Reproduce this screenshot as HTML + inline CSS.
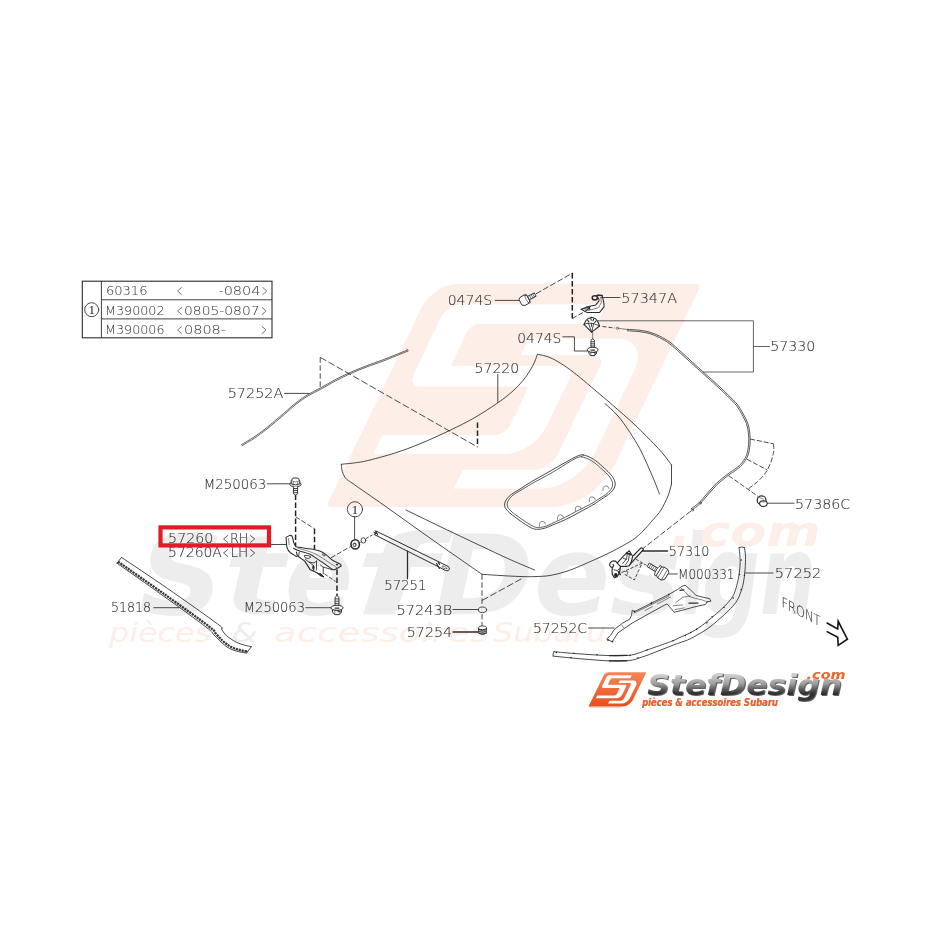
<!DOCTYPE html>
<html lang="fr"><head><meta charset="utf-8"><title>Capot - StefDesign</title>
<style>
html,body{margin:0;padding:0;background:#fff;}
body{width:931px;height:931px;overflow:hidden;}
svg{display:block;will-change:transform}
.l{fill:none;stroke:#2b2b2b;stroke-width:.85;stroke-linecap:round;stroke-linejoin:round}
.lt{fill:none;stroke:#333;stroke-width:.6;stroke-linecap:round;stroke-linejoin:round}
.lw{fill:#fff;stroke:#2b2b2b;stroke-width:.85;stroke-linejoin:round}
.lb{fill:none;stroke:#111;stroke-width:1.6;stroke-linecap:butt;stroke-linejoin:miter}
.d{fill:none;stroke:#2b2b2b;stroke-width:.85;stroke-dasharray:5.5 2.5}
.dk{fill:none;stroke:#222;stroke-width:1.5;stroke-dasharray:5.5 2.5}
.t{font-family:'DejaVu Sans Light','DejaVu Sans','Liberation Sans',sans-serif;font-weight:200;fill:#2c2c2c;stroke:#2c2c2c;stroke-width:.1}
#table .t{fill:#3a3a3a;stroke:#3a3a3a;stroke-width:.06}
.ts{font-family:'Liberation Serif','DejaVu Serif',serif;fill:#222}
.wmt{font-family:'Liberation Sans','DejaVu Sans',sans-serif;font-weight:bold;font-style:italic}
</style></head>
<body>
<svg width="931" height="931" viewBox="0 0 931 931">
<g id="watermark">
<g transform="translate(136.3,0) skewX(-25.64)">
<path d="M457,284 L696.5,284 A5,5 0 0 1 701.5,289 L701.5,465 A42,42 0 0 1 659.5,507 L438,507 A5,5 0 0 1 433,502 L433,308 A24,24 0 0 1 457,284Z" fill="#fdeee8"/>
<path d="M471,304.5 L616,304.5 L616,323.8 L498,323.8 A8,8 0 0 0 490,331.8 L490,363 A3,3 0 0 0 493,366 L603,366 A12,12 0 0 1 615,378 L615,426 A28,28 0 0 1 587,454 L455,454 L455,435 L568,435 A10,10 0 0 0 578,425 L578,389.5 A3,3 0 0 0 575,386.5 L469,386.5 A12,12 0 0 1 457,374.5 L457,318.5 A14,14 0 0 1 471,304.5Z M555,338.5 L644,338.5 A32,32 0 0 1 676,370.5 L676,452.5 A36,36 0 0 1 640,488.5 L552,488.5 L552,470 L623.5,470 A16,16 0 0 0 639.5,454 L639.5,367 A12,12 0 0 0 627.5,355 L555,355Z" fill="#fff"/>
</g>
<text y="613.5" font-size="110" fill="#ededed" style="font-family:'DejaVu Sans','Liberation Sans',sans-serif;font-weight:bold;font-style:oblique"><tspan x="139" textLength="85" lengthAdjust="spacingAndGlyphs">S</tspan><tspan x="224" textLength="61" lengthAdjust="spacingAndGlyphs">t</tspan><tspan x="285" textLength="68" lengthAdjust="spacingAndGlyphs">e</tspan><tspan x="353" textLength="81" lengthAdjust="spacingAndGlyphs">f</tspan><tspan x="434" textLength="100" lengthAdjust="spacingAndGlyphs">D</tspan><tspan x="534" textLength="76" lengthAdjust="spacingAndGlyphs">e</tspan><tspan x="610" textLength="72" lengthAdjust="spacingAndGlyphs">s</tspan><tspan x="682" textLength="22" lengthAdjust="spacingAndGlyphs">i</tspan><tspan x="702" textLength="58" lengthAdjust="spacingAndGlyphs">g</tspan><tspan x="760" textLength="56" lengthAdjust="spacingAndGlyphs">n</tspan></text>
<text y="546" font-size="42" fill="#fdeee8" style="font-family:'DejaVu Sans','Liberation Sans',sans-serif;font-weight:bold;font-style:oblique"><tspan x="671" font-size="52">.</tspan><tspan x="699.5" textLength="121" lengthAdjust="spacingAndGlyphs">com</tspan></text>
<text x="109" y="642" font-size="26" textLength="102" lengthAdjust="spacingAndGlyphs" fill="#fdeee8" style="font-family:'DejaVu Sans','Liberation Sans',sans-serif;font-weight:normal;font-style:oblique">pièces</text>
<text x="231.5" y="642" font-size="26" textLength="26" lengthAdjust="spacingAndGlyphs" fill="#ededed" style="font-family:'DejaVu Sans','Liberation Sans',sans-serif;font-weight:normal;font-style:oblique">&amp;</text>
<text x="274" y="642" font-size="26" textLength="215" lengthAdjust="spacingAndGlyphs" fill="#fdeee8" style="font-family:'DejaVu Sans','Liberation Sans',sans-serif;font-weight:normal;font-style:oblique">accessoires</text>
<text x="493" y="642" font-size="26" textLength="113" lengthAdjust="spacingAndGlyphs" fill="#fdeee8" style="font-family:'DejaVu Sans','Liberation Sans',sans-serif;font-weight:normal;font-style:oblique">Subaru</text>
</g>
<g id="hood">
<path class="l" d="M341.3,464.3 C344.0,464.0 352.7,463.2 357.5,462.5 C362.3,461.8 363.8,461.6 370.0,460.0 C376.2,458.4 386.7,455.7 395.0,453.0 C403.3,450.3 410.8,447.6 420.0,443.8 C429.2,440.0 441.0,434.6 450.0,430.3 C459.0,426.0 465.9,422.6 474.0,418.0 C482.1,413.4 492.1,406.8 498.4,402.4 C504.7,398.0 507.9,395.4 512.0,391.8 C516.1,388.2 520.0,384.1 523.0,380.5 C526.0,376.9 528.1,373.6 530.0,370.5 C531.9,367.4 533.4,364.7 534.6,362.0 C535.8,359.3 536.9,355.7 537.4,354.4"/>
<path class="l" d="M537.5,354.3 C538.9,354.6 543.1,355.2 546.0,356.2 C548.9,357.1 551.5,358.1 555.0,360.0 C558.5,361.9 562.8,364.6 567.0,367.5 C571.2,370.4 575.2,373.6 580.0,377.5 C584.8,381.4 590.6,386.4 596.0,391.0 C601.4,395.6 606.0,399.3 612.5,405.0 C619.0,410.7 627.9,418.3 635.0,425.0 C642.1,431.7 650.2,440.0 655.0,445.0 C659.8,450.0 661.2,451.7 664.0,455.0 C666.8,458.3 670.2,463.3 671.5,465.0"/>
<path class="l" d="M671.5,465.0 L671.5,484.0"/>
<path class="l" d="M671.5,484.0 C670.9,486.0 669.8,491.7 668.0,496.0 C666.2,500.3 663.5,506.0 661.0,510.0 C658.5,514.0 655.8,516.5 652.8,520.0 C649.8,523.5 646.4,527.7 643.0,531.0 C639.6,534.3 638.0,536.4 632.5,540.0 C627.0,543.6 618.3,548.3 610.0,552.5 C601.7,556.7 589.8,561.8 582.5,565.0 C575.2,568.2 571.4,569.8 566.0,571.5 C560.6,573.2 555.2,574.6 550.0,575.5 C544.8,576.4 540.0,576.4 535.0,576.6 C530.0,576.8 525.8,576.7 520.0,576.5 C514.2,576.3 506.3,575.9 500.0,575.5 C493.7,575.1 485.0,574.5 482.0,574.3"/>
<path class="l" d="M341.3,464.3 C341.4,465.1 341.5,467.5 341.8,469.0 C342.1,470.5 342.3,471.9 343.0,473.5 C343.7,475.1 344.5,476.9 346.0,478.5 C347.5,480.1 345.5,478.4 352.0,483.0 C358.5,487.6 373.7,498.0 385.0,506.0 C396.3,514.0 410.0,523.9 420.0,531.0 C430.0,538.1 436.7,542.8 445.0,548.6 C453.3,554.4 463.8,561.7 470.0,566.0 C476.2,570.3 480.0,572.9 482.0,574.3"/>
<path class="l" d="M406.0,510.0 C411.7,512.8 427.7,520.6 440.0,526.5 C452.3,532.4 468.3,540.0 480.0,545.5 C491.7,551.0 500.9,555.4 510.0,559.5 C519.1,563.6 530.4,568.2 534.5,570.0"/>
<path class="l" d="M605.0,403.5 C607.2,405.6 613.8,411.2 618.0,416.0 C622.2,420.8 626.3,427.0 630.0,432.5 C633.7,438.0 637.1,443.6 640.0,449.0 C642.9,454.4 645.2,459.8 647.5,465.0 C649.8,470.2 652.0,475.2 654.0,480.0 C656.0,484.8 658.6,491.7 659.5,494.0"/>
</g>
<g id="scoop">
<path class="l" d="M583.1,454.9 C586.0,455.3 590.1,457.2 593.4,459.2 C596.7,461.2 599.9,464.1 603.0,467.0 C606.1,469.9 610.3,473.4 612.3,476.4 C614.3,479.4 615.5,482.3 615.2,485.0 C614.9,487.7 613.0,490.3 610.6,492.7 C608.2,495.1 604.1,497.4 601.0,499.5 C597.9,501.6 595.5,503.4 591.7,505.6 C587.9,507.9 582.3,510.7 578.0,513.0 C573.7,515.3 569.7,517.6 565.9,519.4 C562.1,521.2 558.4,522.6 555.0,524.0 C551.6,525.4 548.1,527.1 545.3,528.0 C542.5,528.9 540.3,529.3 538.0,529.3 C535.7,529.3 534.8,529.5 531.6,528.0 C528.4,526.5 523.0,522.9 519.0,520.0 C515.0,517.1 509.9,513.5 507.5,510.8 C505.1,508.1 504.3,506.3 504.6,503.9 C504.9,501.5 506.6,498.7 509.2,496.2 C511.8,493.7 516.3,491.4 520.0,489.0 C523.7,486.6 527.4,484.1 531.6,481.6 C535.8,479.1 540.7,476.4 545.0,474.0 C549.3,471.6 553.5,469.2 557.3,467.0 C561.1,464.8 564.9,462.7 568.0,461.0 C571.1,459.3 573.7,457.6 576.2,456.6 C578.7,455.6 580.2,454.5 583.1,454.9Z"/>
<path class="l" d="M581.8,456.8 C584.5,457.2 588.4,458.9 591.6,460.8 C594.8,462.7 597.8,465.5 600.8,468.2 C603.8,470.9 607.9,474.2 609.8,477.1 C611.8,480.0 612.9,482.7 612.6,485.3 C612.3,487.9 610.4,490.4 608.0,492.7 C605.6,495.0 601.5,497.2 598.4,499.2 C595.3,501.2 593.0,502.8 589.3,504.8 C585.6,506.8 580.3,509.3 576.3,511.3 C572.3,513.4 568.9,515.5 565.4,517.2 C561.9,519.0 558.7,520.4 555.5,521.8 C552.3,523.3 549.1,525.1 546.4,526.0 C543.7,526.9 541.6,527.4 539.4,527.4 C537.2,527.5 536.3,527.8 533.3,526.3 C530.2,524.9 525.1,521.5 521.2,518.8 C517.3,516.1 512.3,512.7 510.0,510.1 C507.6,507.6 506.9,505.8 507.2,503.5 C507.5,501.2 509.2,498.5 511.8,496.1 C514.4,493.7 518.9,491.5 522.6,489.2 C526.3,487.0 530.0,484.7 534.0,482.4 C538.0,480.2 542.7,477.9 546.6,475.7 C550.6,473.5 554.2,471.3 557.7,469.2 C561.1,467.1 564.5,464.9 567.4,463.1 C570.4,461.4 572.8,459.7 575.2,458.6 C577.6,457.6 579.1,456.4 581.8,456.8Z" style="stroke-width:.75"/>
<path class="lt" d="M539.5,526.0 q-0.5,-4.2 2.6,-4.6 q3,-0.2 3.4,2.6"/>
<path class="lt" d="M557.5,519.3 q-0.5,-4.2 2.6,-4.6 q3,-0.2 3.4,2.6"/>
<path class="lt" d="M575.3,510.8 q-0.5,-4.2 2.6,-4.6 q3,-0.2 3.4,2.6"/>
<path class="lt" d="M589.3,501.5 q-0.5,-4.2 2.6,-4.6 q3,-0.2 3.4,2.6"/>
<path class="lt" d="M603.0,490.5 q-0.5,-4.2 2.6,-4.6 q3,-0.2 3.4,2.6"/>
</g>
<path class="lt" d="M241.5,444.6 C243.6,443.3 249.9,439.8 254.0,437.0 C258.1,434.2 261.4,431.9 266.3,428.0 C271.2,424.1 278.4,417.8 283.4,413.6 C288.3,409.4 292.0,405.9 296.0,402.8 C300.0,399.7 303.5,397.2 307.5,394.8 C311.5,392.4 315.4,390.7 320.0,388.2 C324.6,385.7 330.0,382.4 335.0,379.8 C340.0,377.2 344.8,374.8 350.0,372.5 C355.2,370.2 360.6,368.1 366.0,366.0 C371.4,363.9 377.7,361.8 382.5,360.0 C387.3,358.2 390.8,356.7 395.0,355.0 C399.2,353.3 405.4,350.8 407.5,350.0" style="stroke-width:.75"/>
<path class="lt" d="M242.1,445.6 C244.2,444.4 250.5,440.8 254.7,438.0 C258.8,435.2 262.1,432.9 267.0,428.9 C272.0,425.0 279.2,418.7 284.2,414.5 C289.1,410.3 292.7,406.9 296.7,403.7 C300.7,400.6 304.2,398.2 308.1,395.8 C312.1,393.4 316.0,391.7 320.6,389.3 C325.1,386.8 330.6,383.5 335.6,380.9 C340.5,378.3 345.3,375.9 350.5,373.6 C355.6,371.3 361.0,369.2 366.4,367.1 C371.8,365.0 378.1,363.0 382.9,361.1 C387.8,359.3 391.3,357.8 395.4,356.1 C399.6,354.4 405.9,351.9 407.9,351.1" style="stroke-width:.75"/>
<path class="lt" d="M406.8,349.2 l1.5,1.3"/>
<path class="lt" d="M627.5,329.3 C629.6,329.5 636.3,329.8 640.0,330.3 C643.8,330.8 646.7,331.3 650.1,332.3 C653.4,333.3 656.7,334.6 660.1,336.3 C663.4,338.0 666.6,339.8 670.1,342.3 C673.6,344.9 677.4,348.5 681.1,351.9 C684.9,355.2 688.6,358.7 692.6,362.4 C696.6,366.0 701.0,369.9 705.1,373.7 C709.3,377.4 713.8,381.3 717.6,384.9 C721.5,388.4 724.8,391.5 728.1,394.9 C731.5,398.2 735.2,401.7 737.7,404.9 C740.2,408.1 741.5,410.9 743.2,413.9 C744.8,416.9 746.6,419.8 747.7,422.9 C748.8,426.1 749.4,429.3 749.8,433.0 C750.2,436.6 750.4,440.9 750.0,444.8 C749.6,448.7 748.9,453.1 747.5,456.5 C746.1,459.9 743.7,462.9 741.7,465.2 C739.6,467.6 737.3,469.0 735.1,470.7 C733.0,472.3 731.8,472.6 728.8,475.0 C725.8,477.3 720.8,481.2 717.2,484.5 C713.7,487.9 710.4,492.0 707.5,495.2 C704.6,498.5 702.4,501.5 699.8,503.9 C697.3,506.4 693.4,508.8 692.1,509.8" style="stroke-width:.75;stroke:#222"/>
<path class="lt" d="M627.4,330.7 C629.5,330.9 636.1,331.2 639.8,331.7 C643.5,332.2 646.4,332.7 649.7,333.6 C652.9,334.6 656.2,335.9 659.5,337.6 C662.7,339.2 665.8,340.9 669.3,343.5 C672.7,346.0 676.5,349.6 680.2,352.9 C683.9,356.2 687.7,359.8 691.7,363.4 C695.7,367.0 700.0,370.9 704.2,374.7 C708.4,378.4 712.9,382.4 716.7,385.9 C720.5,389.4 723.8,392.5 727.2,395.8 C730.5,399.2 734.1,402.6 736.6,405.7 C739.0,408.9 740.3,411.6 742.0,414.6 C743.6,417.5 745.3,420.3 746.4,423.4 C747.4,426.5 748.0,429.6 748.4,433.1 C748.8,436.7 749.0,440.9 748.6,444.7 C748.2,448.5 747.5,452.7 746.2,455.9 C744.9,459.2 742.6,462.0 740.6,464.3 C738.6,466.6 736.4,468.0 734.3,469.5 C732.2,471.1 731.0,471.5 728.0,473.9 C725.0,476.2 719.8,480.1 716.3,483.5 C712.7,486.9 709.4,491.1 706.5,494.3 C703.6,497.5 701.4,500.5 698.9,502.9 C696.3,505.3 692.5,507.7 691.3,508.6" style="stroke-width:.75;stroke:#222"/>
<path class="d" d="M602.5,326.5 L615,328.1" style="stroke-dasharray:4 2"/>
<path class="lt" d="M619,328.4 L627.5,329.5"/>
<circle class="lt" cx="617.4" cy="328.2" r="1.1"/>
<circle class="lt" cx="692.5" cy="510" r="1.1"/>
<circle class="lt" cx="700.5" cy="503" r="0.9"/>
<path class="d" d="M691,511 L643,548.5" style="stroke-dasharray:6 2.2"/>
<path class="l" d="M744.4,547.5 C744.6,548.9 745.4,552.3 745.5,556.1 C745.6,559.9 745.4,565.6 745.0,570.1 C744.6,574.6 744.2,579.1 743.4,583.0 C742.6,586.9 741.5,590.5 740.2,593.7 C739.0,596.9 737.9,599.4 735.9,602.3 C733.9,605.2 731.3,607.8 728.3,610.9 C725.2,614.0 721.2,617.5 717.6,620.6 C714.0,623.7 710.5,626.7 706.9,629.2 C703.3,631.7 699.3,633.8 696.1,635.6 C692.9,637.4 691.2,638.5 687.5,640.0 C683.8,641.5 678.9,642.9 673.9,644.8 C668.9,646.7 663.2,649.1 657.8,651.2 C652.4,653.3 646.5,655.6 641.7,657.2 C636.9,658.8 634.2,660.0 628.8,660.6 C623.4,661.2 618.0,661.2 609.4,660.9 C600.8,660.5 586.6,659.3 577.2,658.5 C567.8,657.7 557.1,656.5 553.1,656.1"/>
<path class="l" d="M739.1,547.5 C739.3,549.8 740.2,557.0 740.2,561.5 C740.2,566.0 739.7,570.5 739.1,574.4 C738.5,578.3 737.8,581.7 736.9,585.1 C736.0,588.5 735.1,591.9 733.7,594.8 C732.3,597.7 730.4,599.8 728.3,602.3 C726.1,604.8 723.5,607.3 720.8,609.8 C718.1,612.3 715.4,614.6 712.2,617.3 C709.0,620.0 705.1,623.3 701.5,625.9 C697.9,628.5 694.3,630.7 690.7,632.6 C687.1,634.5 683.3,635.9 680.0,637.4 C676.7,638.9 676.0,639.6 670.7,641.6 C665.4,643.6 653.6,647.7 648.1,649.6 C642.6,651.5 641.2,652.2 638.0,653.2 C634.8,654.2 633.6,654.9 628.8,655.3 C624.0,655.7 618.0,655.9 609.4,655.6 C600.8,655.3 586.5,654.4 577.2,653.7 C568.0,653.1 557.8,652.0 553.9,651.7"/>
<path class="l" d="M739.1,547.5 Q741.6,546.4 744.4,547.5"/>
<path class="l" d="M553.9,651.7 Q552.6,653.8 553.1,656.1"/>
<path class="l" d="M609.4,655.6 L627,655.4 M609.4,660.9 L627,660.7" style="stroke-width:1.3"/>
<circle cx="741.2" cy="560.0" r="0.75" fill="#222"/>
<circle cx="739.6" cy="574.6" r="0.75" fill="#222"/>
<circle cx="744.4" cy="575.4" r="0.75" fill="#222"/>
<circle cx="741.2" cy="589.4" r="0.75" fill="#222"/>
<circle cx="733.2" cy="598.0" r="0.75" fill="#222"/>
<circle cx="724.0" cy="607.6" r="0.75" fill="#222"/>
<circle cx="712.2" cy="616.8" r="0.75" fill="#222"/>
<circle cx="706.9" cy="622.7" r="0.75" fill="#222"/>
<circle cx="696.6" cy="629.2" r="0.75" fill="#222"/>
<circle cx="690.7" cy="632.4" r="0.75" fill="#222"/>
<circle cx="685.4" cy="635.6" r="0.75" fill="#222"/>
<circle cx="673.0" cy="640.8" r="0.75" fill="#222"/>
<circle cx="647.0" cy="650.0" r="0.75" fill="#222"/>
<circle cx="630.0" cy="655.4" r="0.75" fill="#222"/>
<circle cx="597.0" cy="654.8" r="0.75" fill="#222"/>
<circle cx="574.0" cy="653.2" r="0.75" fill="#222"/>
<circle cx="556.4" cy="652.6" r="0.75" fill="#222"/>
<circle cx="571.0" cy="657.6" r="0.75" fill="#222"/>
<circle cx="638.0" cy="657.8" r="0.75" fill="#222"/>
<path class="l" d="M121.5,557.4 C129.1,562.5 151.3,577.2 167.3,588.3 C183.3,599.4 208.6,617.2 217.6,624.0 C226.6,630.8 220.2,627.2 221.5,629.0 C222.8,630.8 223.7,633.0 225.3,634.7 C226.9,636.4 229.1,637.7 231.0,639.0 C232.9,640.3 234.8,641.5 237.0,642.5 C239.2,643.5 241.6,644.3 244.0,645.0 C246.4,645.7 250.2,646.4 251.4,646.7"/>
<path class="l" d="M117.0,563.2 C124.8,568.7 148.7,585.4 163.5,596.0 C178.3,606.6 197.6,620.5 206.0,627.0 C214.4,633.5 211.4,632.4 214.0,635.0 C216.6,637.6 219.3,640.5 221.5,642.5 C223.7,644.5 225.1,645.8 227.0,647.0 C228.9,648.2 230.8,649.2 233.0,650.0 C235.2,650.8 237.7,651.5 240.0,652.0 C242.3,652.5 245.5,652.8 246.6,653.0"/>
<path class="l" d="M121.5,557.4 L117,563.2"/>
<path class="l" d="M251.4,646.7 L246.6,653"/>
<path class="l" d="M118.1,561.8 C125.8,567.2 149.3,583.4 164.4,594.2 C179.5,604.9 200.2,619.7 208.8,626.3 C217.3,632.8 213.5,631.2 215.8,633.6 C218.1,636.0 220.4,638.7 222.4,640.6 C224.4,642.5 226.0,643.8 228.0,645.1 C229.9,646.3 231.8,647.3 234.0,648.2 C236.1,649.1 238.7,649.8 241.0,650.3 C243.3,650.9 246.6,651.3 247.8,651.5" style="stroke-width:2.3;stroke-dasharray:2.2 0.8;stroke:#353535;stroke-linecap:butt"/>
<g id="dashes">
<path class="d" d="M320.2,357.3 L320.2,389"/>
<path class="d" d="M320.2,357.3 L477.5,447" style="stroke-dasharray:7 2.5"/>
<path class="dk" d="M477.5,422.5 L477.5,447"/>
<path class="d" d="M536,293.8 L572.4,273.1" style="stroke-dasharray:6 2.2"/>
<path class="dk" d="M572.3,273.1 L572.3,318.4"/>
<path class="d" d="M572.3,318.4 L587.6,310" style="stroke-dasharray:5 2"/>
<path class="d" d="M482,574.3 L482,605"/>
<path class="d" d="M482,614 L482,626"/>
<path class="d" d="M482,600.5 L523.8,577.5" style="stroke-dasharray:7 2.5"/>
<path class="d" d="M750,439 L773.5,443.8" style="stroke-dasharray:5 2"/>
<path class="d" d="M773.5,443.8 C773.5,444.8 773.9,448.2 773.8,450.0 C773.7,451.8 773.6,452.5 773.1,454.5 C772.6,456.5 772.0,459.4 771.0,462.0 C770.0,464.6 768.6,467.7 767.3,470.0 C766.0,472.3 764.6,474.1 763.0,476.0 C761.4,477.9 760.2,479.3 757.7,481.5 C755.2,483.7 749.6,488.0 748.0,489.3" style="stroke-dasharray:5 2"/>
<path class="d" d="M747,459.3 L767.3,470" style="stroke-dasharray:5 2"/>
<path class="d" d="M728.7,475.7 L748,489.3 L758,496.5" style="stroke-dasharray:5 2"/>
<path class="dk" d="M295.6,494.5 L295.6,546"/>
<path class="d" d="M295.6,516.7 L314.5,528.8" style="stroke-dasharray:5 2"/>
<path class="dk" d="M314.5,528.8 L314.5,549"/>
<path class="dk" d="M337,569.5 L337,596"/>
<path class="d" d="M331,557.8 L350.5,546.6" style="stroke-dasharray:5 2"/>
<path class="d" d="M366,538.5 L374.5,533.8" style="stroke-dasharray:3 1.5"/>
<path class="d" d="M636.1,559.3 L648.1,566.2" style="stroke-dasharray:3 1.5"/>
</g>
<path class="l" d="M597.5,320.8 L753.4,320.8 L753.4,372 L703.5,372" style="stroke:#484848"/>
<path class="l" d="M753.4,346.5 L769.5,346.5" style="stroke:#484848"/>
<g id="leaders">
<path class="l" d="M495.1,300.4 L520.2,300.4"/>
<path class="l" d="M601.0,297.5 L620.0,297.5"/>
<path class="l" d="M562.8,336.8 L574.4,336.8 L574.4,351 L587.5,351"/>
<path class="l" d="M497.8,374.5 L497.8,402.3"/>
<path class="l" d="M284.5,393.4 L309.2,393.4"/>
<path class="l" d="M267.2,483.8 L290.5,483.8"/>
<path class="l" d="M271.5,544.5 L286.0,544.5"/>
<path class="l" d="M305.8,607.7 L331.4,607.7"/>
<path class="l" d="M153.8,607.7 L179.0,607.7"/>
<path class="l" d="M407.5,551.0 L407.5,578.8" style="stroke-width:1.25"/>
<path class="l" d="M453.0,609.5 L478.0,609.5"/>
<path class="l" d="M453.0,632.0 L478.5,632.0" style="stroke-width:1.3"/>
<path class="l" d="M588.5,628.0 L614.0,628.0"/>
<path class="l" d="M642.5,551.0 L667.6,551.0" style="stroke-width:1.4"/>
<path class="l" d="M667.6,574.0 L677.4,574.0"/>
<path class="l" d="M745.3,573.0 L773.0,573.0"/>
<path class="l" d="M767.3,503.2 L794.2,503.2"/>
<path class="l" d="M354.6,516.6 L354.6,539.5"/>
</g>
<circle class="l" cx="354.9" cy="509.3" r="7.6" fill="none"/>
<text class="ts" x="354.9" y="513.9" font-size="13.5" text-anchor="middle">1</text>
<g id="bolts">
<ellipse class="lw" cx="295.5" cy="484.3" rx="5.7" ry="2.5" style="stroke-width:1"/>
<path class="lw" style="stroke-width:1" d="M291.3,480.4 L293.2,478.0 L297.8,478.0 L299.7,480.4 L299.9,483.8 Q295.5,486.0 291.1,483.8 Z"/>
<path class="lt" d="M291.3,480.4 Q295.5,483.6 299.7,480.4 M293.3,481.9 l0,3.4 M297.7,481.9 l0,3.4"/>
<path class="lw" d="M293.4,486.4 l0,7.4 l2.1,1.2 l2.1,-1.2 l0,-7.4"/>
<path class="l" d="M293.4,488.5 L297.6,488.5"/>
<path class="l" d="M293.4,490.5 L297.6,490.5"/>
<path class="l" d="M293.4,492.6 L297.6,492.6"/>
<path class="lw" d="M335.1,608.2 l0,-11.0 l1.9,-1.6 l1.9,1.6 l0,11.0"/>
<path class="l" d="M335.1,598.9 L338.9,598.9"/>
<path class="l" d="M335.1,601.2 L338.9,601.2"/>
<path class="l" d="M335.1,603.6 L338.9,603.6"/>
<path class="l" d="M335.1,605.9 L338.9,605.9"/>
<path class="lw" style="stroke-width:1" d="M332.5,609.2 L332.6,612.2 L334.8,614.6 L339.2,614.6 L341.4,612.2 Z"/>
<path class="lw" style="stroke-width:1" d="M341.4,612.2 L341.5,609.2"/>
<path class="lt" d="M334.8,610.4 l0,4.0 M339.2,610.4 l0,4.0"/>
<ellipse class="lw" cx="337.0" cy="607.8" rx="6.1" ry="2.5" style="stroke-width:1"/>
<path class="l" d="M335.1,608.1 L338.9,608.1" style="stroke-width:1.3"/>
<path class="lw" d="M591.0,350.2 l0,-10.0 l1.7,-1.6 l1.7,1.6 l0,10.0"/>
<path class="l" d="M591.0,341.7 L594.4,341.7"/>
<path class="l" d="M591.0,343.8 L594.4,343.8"/>
<path class="l" d="M591.0,346.0 L594.4,346.0"/>
<path class="l" d="M591.0,348.1 L594.4,348.1"/>
<path class="lw" style="stroke-width:1" d="M588.8,351.2 L588.9,353.2 L590.8,355.6 L594.6,355.6 L596.5,353.2 Z"/>
<path class="lw" style="stroke-width:1" d="M596.5,353.2 L596.6,351.2"/>
<path class="lt" d="M590.8,352.4 l0,3.0 M594.6,352.4 l0,3.0"/>
<ellipse class="lw" cx="592.7" cy="349.8" rx="5.4" ry="2.5" style="stroke-width:1"/>
<path class="l" d="M591.0,350.1 L594.4,350.1" style="stroke-width:1.3"/>
<path class="lt" d="M592.7,332.0 L592.7,339.4"/>
<g transform="translate(524.6,300.2) rotate(-28)">
<path class="lw" d="M-4.6,-3.2 l2.4,-1.6 l4,0 l2.4,1.6 l0,6.4 l-2.4,1.6 l-4,0 l-2.4,-1.6 Z"/>
<ellipse class="lt" cx="3.2" cy="0" rx="1.5" ry="5.2"/>
<rect class="lw" x="4.4" y="-1.9" width="7.6" height="3.8"/>
<path class="lt" d="M6.4,-1.9 l0,3.8 M8.4,-1.9 l0,3.8 M10.2,-1.9 l0,3.8"/>
</g>
<g transform="translate(661.8,573) rotate(31)">
<rect class="lw" x="-15.8" y="-2.1" width="10" height="4.2"/>
<path class="lt" d="M-13.8,-2.1 l0,4.2 M-11.8,-2.1 l0,4.2 M-9.8,-2.1 l0,4.2 M-7.8,-2.1 l0,4.2"/>
<ellipse class="lw" cx="-4.4" cy="0" rx="1.9" ry="5.8"/>
<path class="lw" d="M-3.4,-4.8 l2.2,-1.4 l4.4,0 l2.6,2.2 l0,8 l-2.6,2.2 l-4.4,0 l-2.2,-1.4 Z"/>
<path class="lt" d="M-1,-6.2 l0,12.4 M3.2,-6.2 l0,12.4"/>
</g>
</g>
<ellipse class="l" cx="482.5" cy="609.8" rx="4.1" ry="2.8"/>
<path class="lw" d="M478.5,628 l8,0 l0,5.2 q-4,2.6 -8,0 Z" style="fill:#4a4a4a"/>
<ellipse class="lw" cx="482.5" cy="627.8" rx="4.1" ry="1.9"/>
<path class="lt" d="M479,630.6 q3.5,1.6 7,0 M479,632.4 q3.5,1.6 7,0" style="stroke:#ddd"/>
<g id="clip57347">
<path class="l" d="M598.4,297.9 Q599.4,299.6 598.8,301.1 L595.6,305.1 L588.4,306.4 L581.1,309.2 L586.8,312.4 L599.6,312.4 L604.1,306.8 L603.7,301.9 L602.1,295.5 L597.6,295.1" style="stroke-width:1.05"/>
<path class="lt" d="M600.8,297.6 L601.4,302.4 L598.6,307.6 L592,309.6 L586,310.4"/>
<ellipse class="l" cx="594.8" cy="297.8" rx="2.6" ry="2.1" style="stroke-width:1.5"/>
<path class="l" d="M596.8,295.4 L602.1,295.5" style="stroke-width:1.3"/>
<path class="l" d="M586.6,307 l3.6,2 M587.2,309.4 l3.2,-2.6 M588.8,306.6 l0.4,3.4 M583.2,308.6 l4,0.6" style="stroke-width:1"/>
</g>
<g id="nut">
<path class="lw" d="M583.9,324.4 L586,320.4 L588.4,318.4 L591.6,317.2 L595.6,318.8 L598,322 L599.6,326 L591.6,332.2 Z" style="stroke-width:1.05"/>
<path class="l" d="M583.9,324.4 L588.4,323.2 L593.6,323.6 L599.6,326 M588.4,323.2 L591.6,332.2 M593.6,323.6 L591.8,332 M591.2,323.2 L591.6,326.6"/>
<path class="l" d="M587.6,320.2 l1.2,1.4 M590.8,318.4 l0.4,1.8 M593.6,319.2 l-0.6,1.6 M596,321.2 l-1.2,1.2" style="stroke-width:1.1"/>
</g>
<g id="clip57386">
<circle class="l" cx="761.6" cy="500.2" r="4.4" style="stroke-width:1.2"/>
<ellipse class="l" cx="763.4" cy="503.6" rx="3.8" ry="2.9" style="fill:#fff;stroke-width:1.1"/>
<path class="lt" d="M759.4,497.6 l4.2,1.6 M760.4,501.6 l4.6,0.4"/>
</g>
<g id="grommet">
<ellipse class="l" cx="355.2" cy="544.4" rx="4.2" ry="4.6" style="fill:#fff;stroke-width:1.6"/>
<ellipse cx="354.6" cy="544.8" rx="2" ry="2.2" fill="#555"/>
<ellipse cx="354.4" cy="545" rx="0.8" ry="0.9" fill="#fff"/>
<ellipse class="l" cx="363.4" cy="540.4" rx="2.4" ry="2.7" style="fill:#fff"/>
<path class="lt" d="M359.4,543 l2,-1.2"/>
</g>
<g id="rod">
<path class="l" d="M376.6,531.3 L448.1,566.4 M374.8,534.8 L437.8,566.4" style="stroke-width:1"/>
<path class="l" d="M376.6,531.3 L374.8,534.8 M375.2,530.6 l2.6,4.6 M374,532.4 l3.4,1.2" style="stroke-width:1"/>
<path class="l" d="M437.8,566.4 L445.6,570.6 Q448.6,571.4 449.4,569.4 Q449.6,567.6 448.1,566.4" style="stroke-width:1"/>
<path class="l" d="M436.6,563.4 l2.8,5 M438.4,562.4 l1.2,2" style="stroke-width:1.1"/>
<ellipse class="lt" cx="444.4" cy="567.4" rx="2.6" ry="1" transform="rotate(27 444.4 567.4)"/>
</g>
<g id="hinge">
<path class="lw" d="M286,537.4 L289.8,535.4 Q292,535.2 292.4,537 L293.9,543 L295.8,546.8" style="fill:none;stroke-width:1.05"/>
<path class="l" d="M286,537.4 L286.8,546.8 Q288,551 290.5,552.8 L296.5,556.6" style="stroke-width:1.05"/>
<path class="lt" d="M288.4,538.6 L289.2,544.6"/>
<path class="l" d="M295.8,546.8 C297.3,547.0 301.8,547.9 304.8,548.3 C307.8,548.7 311.2,548.9 313.8,549.4 C316.4,549.9 318.5,550.3 320.6,551.3 C322.7,552.2 324.6,553.6 326.6,555.1 C328.6,556.6 330.3,558.8 332.6,560.3 C334.9,561.8 338.8,563.1 340.2,564.1 C341.6,565.1 340.9,565.7 341.0,566.0" style="stroke-width:1.05"/>
<path class="l" d="M293.5,548.3 C294.5,548.8 296.8,550.0 299.5,551.0 C302.2,552.0 307.2,553.1 310.0,554.3 C312.8,555.5 313.5,556.5 316.0,558.1 C318.5,559.7 322.2,562.2 325.0,564.1 C327.8,566.0 330.7,568.6 332.6,569.4 C334.5,570.2 335.0,569.4 336.4,568.8 C337.8,568.2 340.2,566.5 341.0,566.0" style="stroke-width:1.05"/>
<path class="lt" d="M298.0,548.4 C299.8,548.9 305.3,550.2 308.6,551.3 C311.9,552.4 314.4,553.3 317.6,555.1 C320.9,556.9 324.8,559.8 328.1,561.9 C331.4,564.0 335.7,566.9 337.2,567.9"/>
<ellipse class="lt" cx="323.6" cy="555" rx="1.6" ry="0.7" transform="rotate(30 323.6 555)"/>
<ellipse cx="337" cy="564.6" rx="1.3" ry="0.9" fill="#333"/>
<path class="l" d="M296.5,552 L297.3,555.8 L304.8,561.1 L310,569.4 L317.6,573.1 L323.6,576.9" style="stroke-width:1.1"/>
<path class="l" d="M299.2,552.4 L298.6,556 M304.6,555.4 Q308.6,554.6 311,557 L308.4,558.6 L305.4,557.8 Z M305.4,559.4 L313.4,565.4 L313.8,571.2 M309,562 L314,563 L316.6,561 M316.6,561 L316.4,570 "/>
<ellipse cx="313.4" cy="567.4" rx="1.1" ry="2.2" fill="#222"/>
<path class="l" d="M317.6,573.4 l3.4,0.4 l2.8,3 l-2.4,-0.6 Z" style="fill:#222"/>
<path class="l" d="M323.2,567.1 L323.2,573.9 M320.4,565 L323.2,567.1 L332,569.6"/>
<path class="d" d="M324.4,573.9 L335.6,581.4" style="stroke-dasharray:4 1.6"/>
</g>
<g id="latch">
<path class="l" d="M640.8,548.2 L633.5,555.5 M643.4,549.5 L629.6,564.9 M640.8,548.2 Q642.4,547.2 643.4,549.5" style="stroke-width:1.15"/>
<path class="lw" d="M629.2,550.7 L623.2,556.3 L617.2,563.2 L620.4,566.4 L626,566.4 L629.2,565.8 L631.4,561.6 L632.6,556.3 Z" style="stroke-width:1.15"/>
<path class="l" d="M627.4,552.6 L626.6,558.8 L622.6,563.6 M629.4,553.4 L628.6,560.4 L625.6,564.6 M623.4,558.4 L626.4,559.4"/>
<path class="l" d="M626.4,553 L630.6,554.6" style="stroke-width:1.6"/>
<path class="l" d="M617.4,563 Q615.4,560.2 612.2,561.2 Q609.2,562.6 609.8,565.6 Q610.6,567.8 612.8,567.2 Q614.2,566 613,564.4" style="stroke-width:1.15"/>
<path class="l" d="M612.4,567.6 Q611.6,571 612.4,574.6 L614.4,577.6 L617.2,576.6 L619.6,572.4 L620.4,566.6" style="stroke-width:1.15"/>
<path class="l" d="M614,569.8 L617.6,570.6 L619.2,568.6"/>
<ellipse cx="615.8" cy="575" rx="1.7" ry="2.1" fill="#222"/>
<path class="l" d="M618.2,571.6 l2.2,3" style="stroke-width:1.4"/>
<path class="d" d="M621.5,572.6 L642.1,563.2 L634.4,579.9 L624.8,574.4" style="stroke-dasharray:3.4 1.5"/>
<path class="lt" d="M624.4,571.4 l3.6,0.4 l-1,3"/>
</g>
<g id="br57252c">
<path class="l" d="M607.1,639.2 L612.2,641.8 L614.2,638.6 L618.0,632.8 L632.2,623.1 L651.6,612.2 L667.0,603.8 L674.1,612.2 L682.5,610.2 L694.1,607.0 L705.7,604.4 L707.0,601.8 L710.9,601.2 L709.6,598.6 L703.1,597.3 L696.0,595.4 L690.2,589.6 L685.1,585.1 L681.9,586.4 L677.3,589.6 L668.3,594.8 L651.6,603.1 L634.8,611.5 L632.2,610.2 L631.6,615.4 L629.6,619.2 L622.6,623.1 L614.2,629.6 L611.0,634.7Z"/>
<path class="lt" d="M634.2,613 L668.6,596.2 M645,610.6 L652.4,606.6 M657.4,604 L670.6,597 M681.2,588.2 L683.8,590.4 L689,596.4 L695.4,598.4 L702.4,600 L707,601.8"/>
<path class="lt" d="M676,602.5 L682.5,597.3 L690.2,596 M673.5,605.7 L682.5,605 M675,609.6 L684.4,607.8 M622,625.4 l1.6,2.4"/>
<path class="l" d="M688.9,603.1 L698,603.1 M680,590.4 l3.8,-0.6" style="stroke-width:1.2"/>
<circle cx="651.4" cy="603.2" r="0.85" fill="#222"/>
<circle cx="668.8" cy="594.6" r="0.85" fill="#222"/>
<circle cx="634.4" cy="611.6" r="0.85" fill="#222"/>
<circle cx="608.0" cy="640.0" r="0.85" fill="#222"/>
<circle cx="612.4" cy="641.6" r="0.85" fill="#222"/>
</g>
<path class="lb" d="M826.6,622.7 L837.7,629 L838.2,621.3 L847.4,639.2 L838.2,645.4 L837.7,637.2 L826.6,631.4"/>
<g id="table">
<rect x="82.3" y="281.2" width="189.7" height="56.6" fill="#fff" stroke="#2b2b2b" stroke-width="1.1"/>
<path class="l" d="M101.4,281.2 L101.4,337.8 M101.4,299.8 L272,299.8 M101.4,318.9 L272,318.9" style="stroke-width:.9;stroke-linecap:butt"/>
<circle class="l" cx="91.7" cy="309.7" r="7"/>
<text class="ts" x="91.7" y="314.1" font-size="13" text-anchor="middle">1</text>
<text class="t" x="105.9" y="295.2" font-size="12.8" textLength="41.6" lengthAdjust="spacingAndGlyphs">60316</text>
<text class="t" x="176.8" y="296.1" font-size="15.5" textLength="5.6" lengthAdjust="spacingAndGlyphs">&lt;</text>
<text class="t" x="218.4" y="295.2" font-size="12.8" textLength="42.2" lengthAdjust="spacingAndGlyphs">-0804</text>
<text class="t" x="261.9" y="296.1" font-size="15.5" textLength="5.6" lengthAdjust="spacingAndGlyphs">&gt;</text>
<text class="t" x="105.0" y="314.8" font-size="12.8" textLength="59.5" lengthAdjust="spacingAndGlyphs">M390002</text>
<text class="t" x="176.8" y="315.7" font-size="15.5" textLength="5.6" lengthAdjust="spacingAndGlyphs">&lt;</text>
<text class="t" x="184.0" y="314.8" font-size="12.8" textLength="75.6" lengthAdjust="spacingAndGlyphs">0805-0807</text>
<text class="t" x="261.2" y="315.7" font-size="15.5" textLength="5.6" lengthAdjust="spacingAndGlyphs">&gt;</text>
<text class="t" x="105.0" y="334.2" font-size="12.8" textLength="59.5" lengthAdjust="spacingAndGlyphs">M390006</text>
<text class="t" x="176.8" y="335.1" font-size="15.5" textLength="5.6" lengthAdjust="spacingAndGlyphs">&lt;</text>
<text class="t" x="184.0" y="334.2" font-size="12.8" textLength="42.0" lengthAdjust="spacingAndGlyphs">0808-</text>
<text class="t" x="261.2" y="335.1" font-size="15.5" textLength="5.6" lengthAdjust="spacingAndGlyphs">&gt;</text>
</g>
<g id="labels">
<text class="t" x="447.7" y="304.8" font-size="13.4" textLength="44.5" lengthAdjust="spacingAndGlyphs">0474S</text>
<text class="t" x="621.3" y="302.9" font-size="13.4" textLength="55.7" lengthAdjust="spacingAndGlyphs">57347A</text>
<text class="t" x="517.3" y="342.8" font-size="13.4" textLength="44.1" lengthAdjust="spacingAndGlyphs">0474S</text>
<text class="t" x="474.5" y="372.9" font-size="13.4" textLength="44.8" lengthAdjust="spacingAndGlyphs">57220</text>
<text class="t" x="770.3" y="351.3" font-size="13.4" textLength="45.1" lengthAdjust="spacingAndGlyphs">57330</text>
<text class="t" x="227.7" y="397.9" font-size="13.4" textLength="55.7" lengthAdjust="spacingAndGlyphs">57252A</text>
<text class="t" x="203.8" y="489.2" font-size="13.4" textLength="62.5" lengthAdjust="spacingAndGlyphs">M250063</text>
<text class="t" x="168.1" y="543.0" font-size="13.4" textLength="45.2" lengthAdjust="spacingAndGlyphs">57260</text>
<text class="t" x="222.8" y="543.9" font-size="15.5" textLength="6.0" lengthAdjust="spacingAndGlyphs">&lt;</text>
<text class="t" x="229.9" y="543.0" font-size="13.4" textLength="18.5" lengthAdjust="spacingAndGlyphs">RH</text>
<text class="t" x="249.4" y="543.9" font-size="15.5" textLength="6.0" lengthAdjust="spacingAndGlyphs">&gt;</text>
<text class="t" x="168.1" y="556.8" font-size="13.4" textLength="53.8" lengthAdjust="spacingAndGlyphs">57260A</text>
<text class="t" x="222.8" y="557.6" font-size="15.5" textLength="6.0" lengthAdjust="spacingAndGlyphs">&lt;</text>
<text class="t" x="230.5" y="556.8" font-size="13.4" textLength="17.9" lengthAdjust="spacingAndGlyphs">LH</text>
<text class="t" x="249.4" y="557.6" font-size="15.5" textLength="6.0" lengthAdjust="spacingAndGlyphs">&gt;</text>
<text class="t" x="243.8" y="612.2" font-size="13.4" textLength="61.2" lengthAdjust="spacingAndGlyphs">M250063</text>
<text class="t" x="110.9" y="611.5" font-size="13.4" textLength="40.0" lengthAdjust="spacingAndGlyphs">51818</text>
<text class="t" x="384.2" y="590.2" font-size="13.4" textLength="42.3" lengthAdjust="spacingAndGlyphs">57251</text>
<text class="t" x="396.5" y="615.0" font-size="13.4" textLength="55.7" lengthAdjust="spacingAndGlyphs">57243B</text>
<text class="t" x="406.8" y="636.7" font-size="13.4" textLength="45.4" lengthAdjust="spacingAndGlyphs">57254</text>
<text class="t" x="533.0" y="633.0" font-size="13.4" textLength="54.0" lengthAdjust="spacingAndGlyphs">57252C</text>
<text class="t" x="668.8" y="556.2" font-size="13.4" textLength="40.7" lengthAdjust="spacingAndGlyphs">57310</text>
<text class="t" x="678.0" y="579.2" font-size="13.4" textLength="56.5" lengthAdjust="spacingAndGlyphs">M000331</text>
<text class="t" x="774.8" y="578.2" font-size="13.4" textLength="46.5" lengthAdjust="spacingAndGlyphs">57252</text>
<text class="t" x="795.0" y="508.8" font-size="13.4" textLength="55.3" lengthAdjust="spacingAndGlyphs">57386C</text>
<text class="t" transform="translate(781.4,606.6) skewY(27)" x="0" y="0" font-size="14" textLength="39" lengthAdjust="spacingAndGlyphs" style="stroke-width:.1">FRONT</text>
</g>
<rect x="160.5" y="527.4" width="108.5" height="18" fill="none" stroke="#e31b26" stroke-width="4.2"/>
<defs>
<linearGradient id="og" x1="0" y1="0" x2="0" y2="1"><stop offset="0" stop-color="#f68558"/><stop offset="1" stop-color="#e8501b"/></linearGradient>
<linearGradient id="gg" gradientUnits="userSpaceOnUse" x1="0" y1="675" x2="0" y2="705"><stop offset="0" stop-color="#cfcfcf"/><stop offset=".3" stop-color="#9c9c9c"/><stop offset=".47" stop-color="#5e5e5e"/><stop offset=".62" stop-color="#303030"/><stop offset="1" stop-color="#3c3c3c"/></linearGradient>
</defs>
<g id="logo">
<path d="M589.4,707.3 L621.5,707.3" fill="none" stroke="#cfcfcf" stroke-width="1.1"/>
<g transform="translate(605.2,672.2) skewX(-26) scale(0.1535) translate(-433,-284)">
<path d="M457,284 L696.5,284 A5,5 0 0 1 701.5,289 L701.5,465 A42,42 0 0 1 659.5,507 L438,507 A5,5 0 0 1 433,502 L433,308 A24,24 0 0 1 457,284Z" fill="url(#og)"/>
<path d="M471,304.5 L616,304.5 L616,323.8 L498,323.8 A8,8 0 0 0 490,331.8 L490,363 A3,3 0 0 0 493,366 L603,366 A12,12 0 0 1 615,378 L615,426 A28,28 0 0 1 587,454 L455,454 L455,435 L568,435 A10,10 0 0 0 578,425 L578,389.5 A3,3 0 0 0 575,386.5 L469,386.5 A12,12 0 0 1 457,374.5 L457,318.5 A14,14 0 0 1 471,304.5Z M555,338.5 L644,338.5 A32,32 0 0 1 676,370.5 L676,452.5 A36,36 0 0 1 640,488.5 L552,488.5 L552,470 L623.5,470 A16,16 0 0 0 639.5,454 L639.5,367 A12,12 0 0 0 627.5,355 L555,355Z" fill="#fff"/>
</g>
<text x="648.3" y="696.1" font-size="27.6" textLength="195" lengthAdjust="spacingAndGlyphs" fill="#222" opacity=".7" style="font-family:'DejaVu Sans','Liberation Sans',sans-serif;font-weight:bold;font-style:oblique">StefDesign</text>
<text x="647.2" y="695" font-size="27.6" textLength="195" lengthAdjust="spacingAndGlyphs" fill="url(#gg)" style="font-family:'DejaVu Sans','Liberation Sans',sans-serif;font-weight:bold;font-style:oblique">StefDesign</text>
<text x="806.6" y="679.2" font-size="11.6" textLength="39" lengthAdjust="spacingAndGlyphs" fill="#f0662a" style="font-family:'DejaVu Sans','Liberation Sans',sans-serif;font-weight:bold;font-style:oblique">.com</text>
<text x="642.4" y="706.1" font-size="10" textLength="136" lengthAdjust="spacingAndGlyphs" fill="#7a3a1c" opacity=".5" style="font-family:'DejaVu Sans','Liberation Sans',sans-serif;font-weight:bold;font-style:oblique">pièces &amp; accessoires Subaru</text>
<text x="641.9" y="705.6" font-size="10" textLength="136" lengthAdjust="spacingAndGlyphs" fill="#ee6227" style="font-family:'DejaVu Sans','Liberation Sans',sans-serif;font-weight:bold;font-style:oblique">pièces &amp; accessoires Subaru</text>
</g>
</svg>
</body></html>
